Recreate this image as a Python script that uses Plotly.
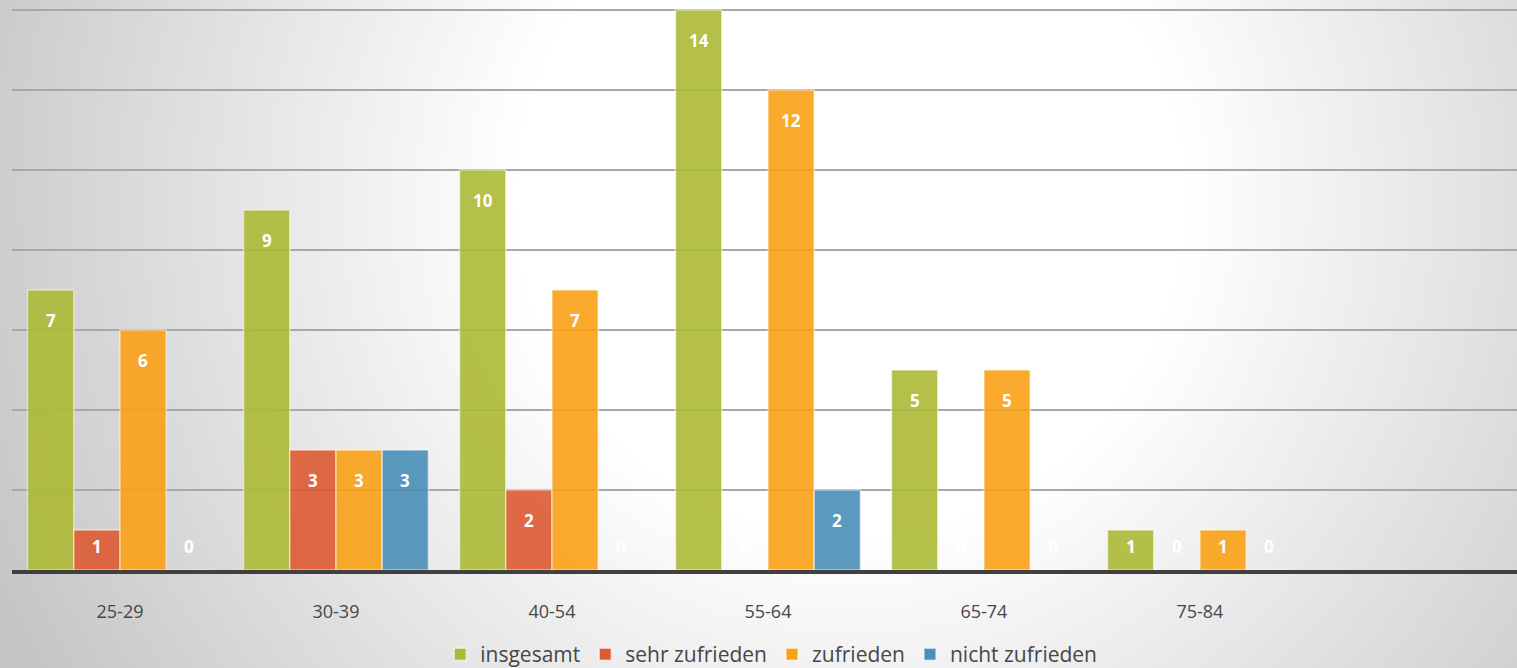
import base64
import plotly.graph_objects as go

# Age groups and satisfaction counts
categories = ["25-29", "30-39", "40-54", "55-64", "65-74", "75-84"]
series_names = ["insgesamt", "sehr zufrieden", "zufrieden", "nicht zufrieden"]
insgesamt = [7, 9, 10, 14, 5, 1]
sehr_zufrieden = [1, 3, 2, 0, 0, 0]
zufrieden = [6, 3, 7, 12, 5, 1]
nicht_zufrieden = [0, 3, 0, 2, 0, 0]

series_values = [insgesamt, sehr_zufrieden, zufrieden, nicht_zufrieden]
colors = ["#ACBA36", "#DE5A33", "#FAA116", "#4A8FB8"]

BAR_W = 0.214          # width of one bar in category units
N_CATS_SHOWN = 6.968   # axis span (leaves room for an empty slot at the right)
FONT = "Open Sans"

W, H = 1517, 668
ML, MB = 12, 98
PW, PH = W - ML, H - MB

# soft radial background
svg = (
    f'<svg xmlns="http://www.w3.org/2000/svg" width="{W}" height="{H}">'
    '<defs><radialGradient id="g" gradientUnits="userSpaceOnUse" cx="850" cy="200" r="950">'
    '<stop offset="0" stop-color="#ffffff"/>'
    '<stop offset="0.35" stop-color="#ffffff"/>'
    '<stop offset="1" stop-color="#c4c4c4"/>'
    '</radialGradient></defs>'
    f'<rect width="{W}" height="{H}" fill="url(#g)"/></svg>'
)
bg_uri = "data:image/svg+xml;base64," + base64.b64encode(svg.encode()).decode()

fig = go.Figure()
annotations = []
idx = list(range(len(categories)))

for j, (name, vals, col) in enumerate(zip(series_names, series_values, colors)):
    off = (j - 1.5) * BAR_W
    xs = [i + off for i in idx]
    fig.add_trace(go.Bar(
        x=xs, y=vals, width=BAR_W, name=name,
        marker=dict(color=col, opacity=0.9,
                    line=dict(color="rgba(255,255,255,0.55)", width=1.5)),
        hoverinfo="skip",
    ))
    # value labels sit just below the bar top, never lower than a fixed floor
    for x, v in zip(xs, vals):
        annotations.append(dict(
            x=x, y=max(v - 0.77, 0.6), xref="x", yref="y",
            text=f"<b>{v}</b>", showarrow=False,
            font=dict(family=FONT, size=17, color="white"),
            xanchor="center", yanchor="middle",
        ))

fig.update_layout(
    width=W, height=H,
    margin=dict(l=ML, r=0, t=0, b=MB, autoexpand=False),
    barmode="overlay",
    paper_bgcolor="rgba(0,0,0,0)",
    plot_bgcolor="rgba(0,0,0,0)",
    font=dict(family=FONT, color="#4a4a4a"),
    images=[dict(source=bg_uri, xref="paper", yref="paper",
                 x=-ML / PW, y=1, sizex=W / PW, sizey=H / PH,
                 xanchor="left", yanchor="top", sizing="stretch", layer="below")],
    xaxis=dict(
        range=[-0.5, -0.5 + N_CATS_SHOWN],
        tickmode="array", tickvals=idx, ticktext=categories,
        tickfont=dict(family=FONT, size=18, color="#474747"),
        ticks="", ticklabelstandoff=22,
        showgrid=False, zeroline=False,
        showline=True, linecolor="#404040", linewidth=4,
    ),
    yaxis=dict(
        range=[0, 14.25], dtick=2, showticklabels=False,
        showgrid=True, gridcolor="#a8a8a8", gridwidth=1.5,
        zeroline=False, showline=False,
    ),
    showlegend=True,
    legend=dict(
        orientation="h", x=0.5045, xanchor="center", y=-64 / PH, yanchor="top",
        font=dict(family=FONT, size=21, color="#474747"),
        bgcolor="rgba(0,0,0,0)", traceorder="normal",
        itemwidth=30,
    ),
    annotations=annotations,
)

fig.write_html("out.html")
